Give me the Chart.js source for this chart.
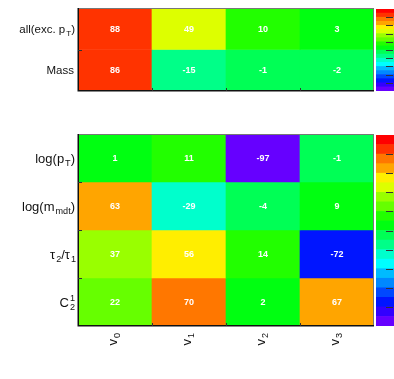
<!DOCTYPE html>
<html lang="en">
<head>
<meta charset="UTF-8">
<title>Heatmaps</title>
<script src="https://cdn.jsdelivr.net/npm/chart.js"></script>
<style>
    body { margin: 0; background: #fff; }
    canvas { position: absolute; }
</style>
</head>
<body>
<canvas id="topChart" width="376" height="100" style="left:0;top:0"></canvas>
<canvas id="topPalette" width="18" height="100" style="left:376px;top:0"></canvas>
<canvas id="bottomChart" width="376" height="259" style="left:0;top:120px"></canvas>
<canvas id="bottomPalette" width="18" height="259" style="left:376px;top:120px"></canvas>
<script>
// column labels (text segments: [text, mode])
var columns = [
    [['v', 'n'], ['0', 'sub']],
    [['v', 'n'], ['1', 'sub']],
    [['v', 'n'], ['2', 'sub']],
    [['v', 'n'], ['3', 'sub']]
];

var topRows = [
    [['all(exc. p', 'n'], ['T', 'sub'], [')', 'n']],
    [['Mass', 'n']]
];
var topValues = [
    [88, 49, 10, 3],
    [86, -15, -1, -2]
];

var bottomRows = [
    [['log(p', 'n'], ['T', 'sub'], [')', 'n']],
    [['log(m', 'n'], ['mdt', 'sub'], [')', 'n']],
    [['\u03c4', 'n'], ['2', 'sub'], ['/\u03c4', 'n'], ['1', 'sub']],
    [['C', 'n'], ['2', 'subsup', '1']]
];
var bottomValues = [
    [1, 11, -97, -1],
    [63, -29, -4, 9],
    [37, 56, 14, -72],
    [22, 70, 2, 67]
];

// colour palette, from -100 up to +100 in steps of 10
var zMin = -100, zMax = 100, zStep = 10;
var paletteColors = [
    '#6600ff', '#3300ff', '#0015ff', '#0048ff', '#0088ff',
    '#00bbff', '#00ffff', '#00ffcc', '#00ff88', '#00ff55',
    '#00ff11', '#22ff00', '#66ff00', '#99ff00', '#ddff00',
    '#ffee00', '#ffa500', '#ff7700', '#ff3300', '#ff0000'
];

var FONT = "'Liberation Sans', Arial, Helvetica, sans-serif";

function colorFor(v) {
    var i = Math.floor((v - zMin) / zStep);
    if (i < 0) i = 0;
    if (i > paletteColors.length - 1) i = paletteColors.length - 1;
    return paletteColors[i];
}

// measure / draw text with sub- and superscripts
function richWidth(ctx, segs, size) {
    var w = 0;
    segs.forEach(function (s) {
        var sz = s[1] === 'n' ? size : size * 0.7;
        ctx.font = sz + 'px ' + FONT;
        var sw = ctx.measureText(s[0]).width;
        if (s[1] === 'subsup') {
            sw = Math.max(sw, ctx.measureText(s[2]).width);
        }
        w += sw;
    });
    return w;
}

function drawRich(ctx, segs, x, y, size) {
    ctx.textAlign = 'left';
    ctx.textBaseline = 'alphabetic';
    segs.forEach(function (s) {
        var mode = s[1];
        if (mode === 'n') {
            ctx.font = size + 'px ' + FONT;
            ctx.fillText(s[0], x, y);
            x += ctx.measureText(s[0]).width;
        } else {
            var sz = size * 0.7;
            ctx.font = sz + 'px ' + FONT;
            ctx.fillText(s[0], x + 1, y + size * 0.3);
            var w = ctx.measureText(s[0]).width;
            if (mode === 'subsup') {
                ctx.fillText(s[2], x + 1, y - size * 0.42);
                w = Math.max(w, ctx.measureText(s[2]).width);
            }
            x += w + 1;
        }
    });
}

function heatmapPlugin(rowLabels, values, labelSize, showColumns) {
    return {
        id: 'heatmapText',
        afterDatasetsDraw: function (chart) {
            var ctx = chart.ctx;
            ctx.save();
            ctx.fillStyle = '#ffffff';
            ctx.font = 'bold 9px ' + FONT;
            ctx.textAlign = 'center';
            ctx.textBaseline = 'middle';
            chart.data.datasets.forEach(function (ds, r) {
                chart.getDatasetMeta(r).data.forEach(function (el, c) {
                    var p = el.getProps(['x', 'y', 'base'], true);
                    ctx.fillText(String(values[r][c]), p.x, (p.y + p.base) / 2 + 0.5);
                });
            });
            ctx.restore();
        },
        afterDraw: function (chart) {
            var ctx = chart.ctx;
            var a = chart.chartArea;
            var xs = chart.scales.x, ys = chart.scales.y;
            ctx.save();

            // frame
            ctx.lineWidth = 1;
            ctx.strokeStyle = '#777';
            ctx.beginPath();
            ctx.moveTo(a.left, a.top + 0.5);
            ctx.lineTo(a.right - 0.5, a.top + 0.5);
            ctx.lineTo(a.right - 0.5, a.bottom);
            ctx.stroke();
            ctx.strokeStyle = '#111';
            ctx.lineWidth = 1.5;
            ctx.beginPath();
            ctx.moveTo(a.left + 0.25, a.top);
            ctx.lineTo(a.left + 0.25, a.bottom - 0.25);
            ctx.lineTo(a.right, a.bottom - 0.25);
            ctx.stroke();

            // tick marks at cell edges
            ctx.lineWidth = 1;
            ctx.strokeStyle = '#333';
            ctx.beginPath();
            for (var r = 1; r < values.length; r++) {
                var yy = Math.round(ys.getPixelForValue(r)) + 0.5;
                ctx.moveTo(a.left, yy);
                ctx.lineTo(a.left + 4, yy);
            }
            for (var c = 1; c < chart.data.labels.length; c++) {
                var xx = Math.round((xs.getPixelForValue(c - 1) + xs.getPixelForValue(c)) / 2) + 0.5;
                ctx.moveTo(xx, a.bottom);
                ctx.lineTo(xx, a.bottom - 3);
            }
            ctx.stroke();

            // row labels
            ctx.fillStyle = '#111';
            rowLabels.forEach(function (segs, i) {
                var w = richWidth(ctx, segs, labelSize);
                var yc = ys.getPixelForValue(i + 0.5);
                drawRich(ctx, segs, a.left - 4 - w, yc + labelSize * 0.35, labelSize);
            });

            // column labels (rotated)
            if (showColumns) {
                columns.forEach(function (segs, i) {
                    ctx.save();
                    ctx.translate(xs.getPixelForValue(i) + 1.5, a.bottom + 19.5);
                    ctx.rotate(-Math.PI / 2);
                    drawRich(ctx, segs, 0, 0, 13);
                    ctx.restore();
                });
            }
            ctx.restore();
        }
    };
}

function makeHeatmap(id, rowLabels, values, labelSize, padding, showColumns) {
    var datasets = values.map(function (row, r) {
        return {
            data: row.map(function () { return [r, r + 1]; }),
            backgroundColor: row.map(colorFor),
            borderWidth: 0,
            grouped: false,
            barPercentage: 1,
            categoryPercentage: 1
        };
    });
    return new Chart(document.getElementById(id).getContext('2d'), {
        type: 'bar',
        data: { labels: columns.map(function (c, i) { return 'v' + i; }), datasets: datasets },
        options: {
            responsive: false,
            animation: false,
            layout: { padding: padding },
            scales: {
                x: { display: false },
                y: { display: false, min: 0, max: values.length, reverse: true }
            },
            plugins: { legend: { display: false }, tooltip: { enabled: false } }
        },
        plugins: [heatmapPlugin(rowLabels, values, labelSize, showColumns)]
    });
}

function makePalette(id, padding) {
    var datasets = paletteColors.map(function (col, i) {
        return {
            data: [[zMin + i * zStep, zMin + (i + 1) * zStep]],
            backgroundColor: col,
            borderWidth: 0,
            grouped: false,
            barPercentage: 1,
            categoryPercentage: 1
        };
    });
    return new Chart(document.getElementById(id).getContext('2d'), {
        type: 'bar',
        data: { labels: ['z'], datasets: datasets },
        options: {
            responsive: false,
            animation: false,
            layout: { padding: padding },
            scales: {
                x: { display: false },
                y: { display: false, min: zMin, max: zMax }
            },
            plugins: { legend: { display: false }, tooltip: { enabled: false } }
        },
        plugins: [{
            id: 'paletteTicks',
            afterDraw: function (chart) {
                var ctx = chart.ctx, a = chart.chartArea, ys = chart.scales.y;
                ctx.save();
                ctx.strokeStyle = '#333';
                ctx.lineWidth = 1;
                ctx.beginPath();
                for (var v = zMin + 20; v < zMax; v += 20) {
                    var yy = Math.round(ys.getPixelForValue(v)) + 0.5;
                    ctx.moveTo(a.right - 8, yy);
                    ctx.lineTo(a.right - 1, yy);
                }
                ctx.stroke();
                ctx.restore();
            }
        }]
    });
}

makeHeatmap('topChart', topRows, topValues, 11.5, { left: 78, right: 2, top: 8, bottom: 9 }, false);
makePalette('topPalette', { left: 0, right: 0, top: 9, bottom: 9 });
makeHeatmap('bottomChart', bottomRows, bottomValues, 13, { left: 78, right: 2, top: 14, bottom: 53 }, true);
makePalette('bottomPalette', { left: 0, right: 0, top: 15, bottom: 53 });
</script>
</body>
</html>
